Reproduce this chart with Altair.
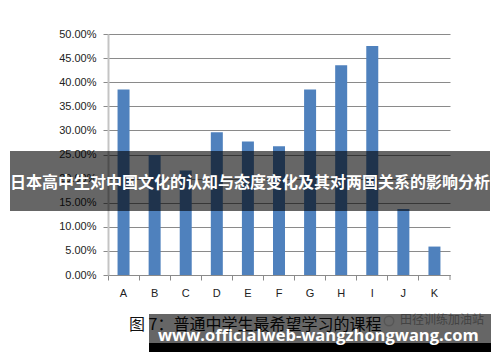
import altair as alt
import pandas as pd

# Course preference shares (%), one bar per course letter
categories = ["A", "B", "C", "D", "E", "F", "G", "H", "I", "J", "K"]
shares = [38.5, 24.9, 21.7, 29.6, 27.7, 26.7, 38.5, 43.5, 47.5, 13.7, 5.9]
y_ticks = [0, 5, 10, 15, 20, 25, 30, 35, 40, 45, 50]

banner_title = "日本高中生对中国文化的认知与态度变化及其对两国关系的影响分析"
caption = "图 7：普通中学生最希望学习的课程"
site = "www.officialweb-wangzhongwang.com"
badge = "田径训练加油站"

df = pd.DataFrame({"course": categories, "share": [v / 100 for v in shares]})
one = alt.Data(values=[{}])

W, H = 342, 241

bars = alt.Chart(df).mark_bar(width=12, color="#4F81BD").encode(
    x=alt.X(
        "course:N",
        sort=categories,
        title=None,
        scale=alt.Scale(paddingInner=0, paddingOuter=0),
        axis=alt.Axis(
            labelAngle=0, labelFont="Liberation Sans", labelFontSize=11,
            labelColor="#222222", labelPadding=7, bandPosition=0,
            tickSize=5, tickColor="#8a8a8a", domainColor="#8a8a8a",
            domainWidth=1, grid=False,
        ),
    ),
    y=alt.Y(
        "share:Q",
        title=None,
        scale=alt.Scale(domain=[0, 0.5], nice=False),
        axis=alt.Axis(
            values=[t / 100 for t in y_ticks], format=".2%",
            labelFont="Liberation Sans", labelFontSize=11, labelColor="#222222",
            labelPadding=7, tickSize=5, tickColor="#8a8a8a",
            domainColor="#c4c4c4", domainWidth=2,
            grid=True, gridColor="#8a8a8a", gridWidth=1,
        ),
    ),
)

# closing tick at the right end of the category axis
end_tick = alt.Chart(pd.DataFrame({"course": ["K"]})).mark_rule(
    color="#8a8a8a"
).encode(
    x=alt.X("course:N", sort=categories, bandPosition=1),
    y=alt.value(H), y2=alt.value(H + 5),
)

banner = alt.Chart(one).mark_rect(color="#000000", opacity=0.6).encode(
    x=alt.value(-98), x2=alt.value(382), y=alt.value(117), y2=alt.value(177)
)
banner_text = alt.Chart(one).mark_text(
    text=banner_title, font="Noto Sans CJK SC", fontWeight="bold",
    fontSize=16, color="white", align="center", baseline="middle",
).encode(x=alt.value(142), y=alt.value(149))

caption_text = alt.Chart(one).mark_text(
    text=caption, font="Noto Sans CJK SC", fontSize=16, color="#111111",
    align="left", baseline="middle",
).encode(x=alt.value(21), y=alt.value(291))

badge_text = alt.Chart(one).mark_text(
    text=badge, font="Noto Sans CJK SC", fontSize=12, color="#a8a8a8",
    align="left", baseline="middle",
).encode(x=alt.value(292), y=alt.value(286))
badge_icon = alt.Chart(one).mark_point(
    shape="circle", size=90, color="#c8c8c8", strokeWidth=1.5
).encode(x=alt.value(281), y=alt.value(287))

strip = alt.Chart(one).mark_rect(color="#000000", opacity=0.6).encode(
    x=alt.value(41), x2=alt.value(383), y=alt.value(280), y2=alt.value(309)
)
strip_dark = alt.Chart(one).mark_rect(color="#000000").encode(
    x=alt.value(41), x2=alt.value(383), y=alt.value(309), y2=alt.value(318)
)
site_text = alt.Chart(one).mark_text(
    text=site, font="Open Sans", fontWeight="bold", fontSize=16.5,
    color="white", align="left", baseline="alphabetic",
).encode(x=alt.value(50), y=alt.value(307))

chart = alt.layer(
    bars, end_tick, banner, banner_text, caption_text, badge_icon, badge_text,
    strip, strip_dark, site_text,
).properties(
    width=W, height=H,
    autosize=alt.AutoSizeParams(type="none"),
    padding={"left": 108, "top": 34, "right": 50, "bottom": 87},
    background="white",
).configure_view(stroke=None)

chart.save("out.html", embed_options={"renderer": "svg", "actions": False})
